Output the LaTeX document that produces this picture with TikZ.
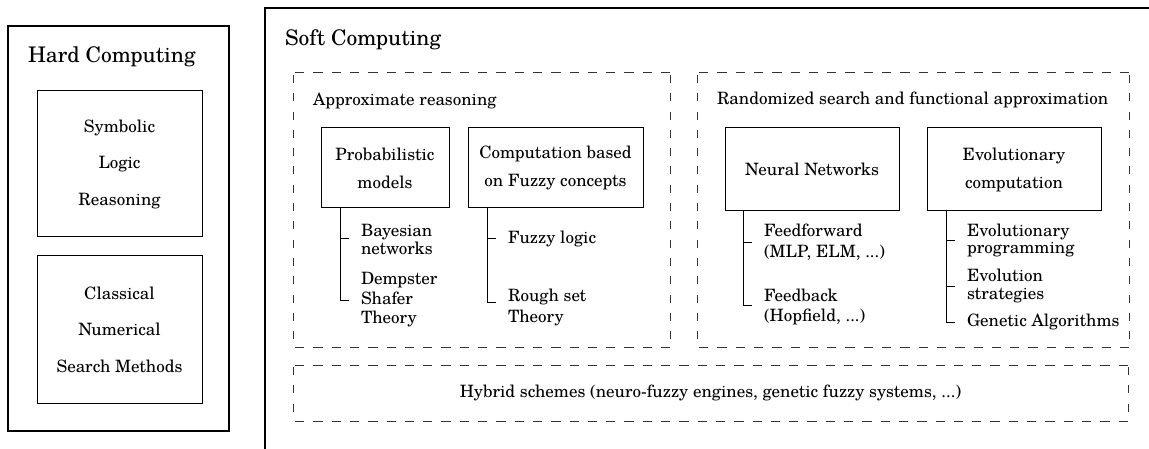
\documentclass[tikz,border=0pt]{standalone}
\usepackage{fontspec}
\setmainfont{texgyreschola}[Extension=.otf,UprightFont=*-regular,BoldFont=*-bold,ItalicFont=*-italic,BoldItalicFont=*-bolditalic]
\usetikzlibrary{calc}

% dashed outline of a region node
\newcommand\dashframe[1]{%
  \draw[hdash] (#1.north west) -- (#1.north east) (#1.south west) -- (#1.south east);
  \draw[vdash] (#1.north west) -- (#1.south west) (#1.north east) -- (#1.south east);}

\begin{document}
\begin{tikzpicture}[x=1pt,y=-1pt,
  every node/.style={font=\fontsize{17}{19.5}\selectfont, inner sep=0pt, outer sep=0pt},
  heading/.style={font=\fontsize{21.5}{24}\selectfont, anchor=base west},
  headtext/.style={anchor=base west},
  frame/.style={draw, line width=1.5pt},
  box/.style={draw, line width=1pt, align=center, font=\fontsize{17}{28}\selectfont},
  hardbox/.style={box, font=\fontsize{17}{36.5}\selectfont},
  region/.style={draw=none, outer sep=0pt},
  hdash/.style={draw=black!80, line width=1pt, dash pattern=on 9.3pt off 9pt, dash phase=-2pt},
  vdash/.style={draw=black!80, line width=1pt, dash pattern=on 8pt off 10.3pt, dash phase=-2pt},
  item/.style={anchor=west, align=left, inner xsep=12pt, inner ysep=0pt},
  branch/.style={line width=1pt}
]
\useasboundingbox (0,0) rectangle (1149,449);

% ---- hard computing ----
\node[frame, minimum width=221, minimum height=405] (hard) at (118.5,228.5) {};
\node[heading] (hardt) at (28,63) {Hard Computing};
\node[hardbox, minimum width=165, minimum height=146] (sym) at (119.5,164) {Symbolic\\Logic\\Reasoning};
\node[hardbox, minimum width=165, minimum height=147] (cls) at (119.5,329.5) {Classical\\Numerical\\Search Methods};

% ---- soft computing frame ----
\coordinate (sc) at (265,8);
\draw[frame] (265,470) -- (sc) -- (1170,8);
\node[heading] (softt) at (285,46) {Soft Computing};

% ---- regions ----
\node[region, minimum width=377, minimum height=274] (ar) at (481.5,210) {};
\node[region, minimum width=432, minimum height=274] (rs) at (913,210) {};
\node[region, minimum width=835, minimum height=56] (hy) at (710.5,393) {Hybrid schemes (neuro-fuzzy engines, genetic fuzzy systems, ...)};
\dashframe{ar}
\dashframe{rs}
\dashframe{hy}
\node[headtext] (art) at (313,106) {Approximate reasoning};
\node[headtext] (rst) at (717,105) {Randomized search and functional approximation};

% ---- approximate reasoning ----
\node[box, minimum width=128, minimum height=80] (pm) at (385,168) {Probabilistic\\models};
\node[box, minimum width=175, minimum height=80] (fz) at (555.5,168) {Computation based\\on Fuzzy concepts};
\node[item, font=\fontsize{17}{18}\selectfont] (bay) at (349,239) {Bayesian\\networks};
\node[item] (dst) at (349,300) {Dempster\\Shafer\\Theory};
\node[item] (fl) at (496,239) {Fuzzy logic};
\node[item, font=\fontsize{17}{21}\selectfont] (rgh) at (496,307) {Rough set\\Theory};
\draw[branch] ($(pm.south west)+(19,0)$) |- (bay.west);
\draw[branch] ($(pm.south west)+(19,0)$) |- (dst.west);
\draw[branch] ($(fz.south west)+(19,0)$) |- (fl.west);
\draw[branch] ($(fz.south west)+(19,0)$) |- ($(rgh.west)+(0,-5)$);

% ---- randomized search ----
\node[box, minimum width=174, minimum height=83] (nn) at (812,169.5) {Neural Networks};
\node[box, minimum width=174, minimum height=83] (ev) at (1014,169.5) {Evolutionary\\computation};
\node[item, font=\fontsize{17}{21}\selectfont] (ff) at (752,242.5) {Feedforward\\(MLP, ELM, ...)};
\node[item] (fb) at (752,307) {Feedback\\(Hopfield, ...)};
\node[item, font=\fontsize{17}{17.5}\selectfont] (ep) at (955,240.5) {Evolutionary\\programming};
\node[item, font=\fontsize{17}{18}\selectfont] (es) at (955,286) {Evolution\\strategies};
\node[item] (ga) at (955,322) {Genetic Algorithms};
\draw[branch] ($(nn.south west)+(18,0)$) |- (ff.west);
\draw[branch] ($(nn.south west)+(18,0)$) |- ($(fb.west)+(0,-2)$);
\draw[branch] ($(ev.south west)+(19,0)$) |- (ep.west);
\draw[branch] ($(ev.south west)+(19,0)$) |- (es.west);
\draw[branch] ($(ev.south west)+(19,0)$) |- (ga.west);
\end{tikzpicture}
\end{document}
